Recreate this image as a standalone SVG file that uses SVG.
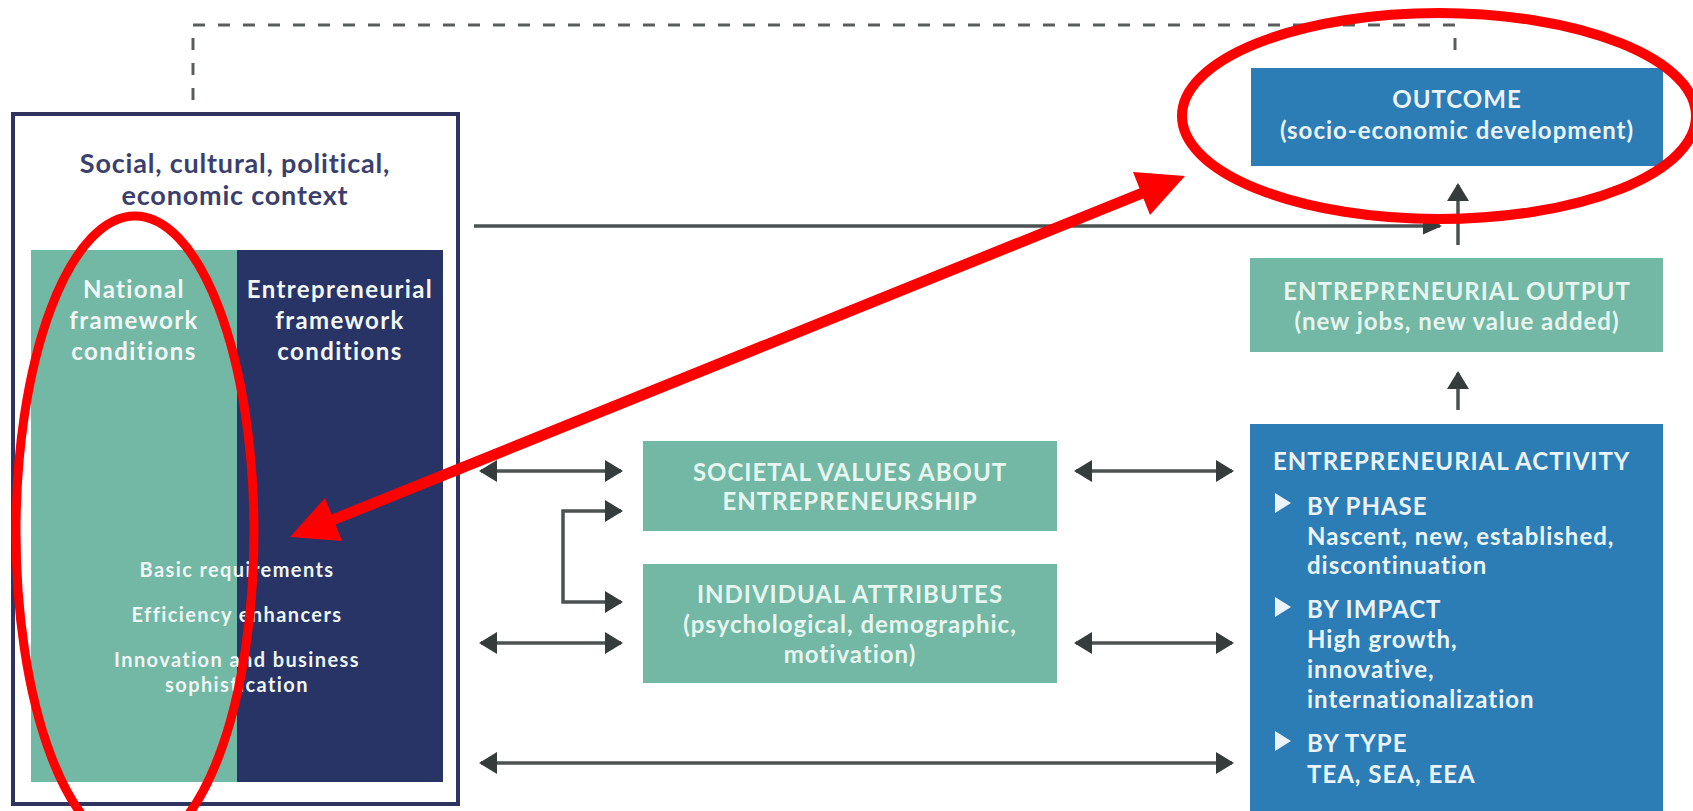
<svg xmlns="http://www.w3.org/2000/svg" width="1693" height="811" viewBox="0 0 1693 811">
<defs>
<style>
text{font-family:Lato,"Open Sans","Liberation Sans",sans-serif;font-weight:700}
.c{text-anchor:middle}
.title{font-size:27px;fill:#3b3f6e;letter-spacing:0.8px}
.col{font-size:24px;fill:#f2f7f6;letter-spacing:1.4px}
.sub{font-size:20px;fill:#eef5f3;letter-spacing:1.4px}
.tl{font-size:24px;fill:#e6f5ef;letter-spacing:1px}
.bl{font-size:24px;fill:#eaf3fa;letter-spacing:1px}
.ln{stroke:#4c5151;stroke-width:3.5;fill:none}
.dash{stroke:#5a5d5d;stroke-width:3;fill:none;stroke-dasharray:12 13}
.red{stroke:#ff0000;fill:none}
</style>
<marker id="ah" viewBox="0 0 18 22" refX="16" refY="11" markerWidth="18" markerHeight="22" markerUnits="userSpaceOnUse" orient="auto-start-reverse">
<path d="M0,0 L18,11 L0,22 Z" fill="#363b3b"/>
</marker>
<marker id="ahs" viewBox="0 0 19 17" refX="17" refY="8.5" markerWidth="19" markerHeight="17" markerUnits="userSpaceOnUse" orient="auto">
<path d="M0,0 L19,8.5 L0,17 Z" fill="#363b3b"/>
</marker>
</defs>
<rect width="1693" height="811" fill="#ffffff"/>

<g id="context">
<rect x="13" y="114" width="445" height="690" fill="#ffffff" stroke="#2e3360" stroke-width="4"/>
<text class="title c" x="235" y="173">Social, cultural, political,</text>
<text class="title c" x="235" y="205">economic context</text>
</g>

<g id="national">
<rect x="31" y="250" width="206" height="532" fill="#73b8a4"/>
<text class="col c" x="134" y="298">National</text>
<text class="col c" x="134" y="329">framework</text>
<text class="col c" x="134" y="360">conditions</text>
</g>

<g id="entrepreneurial-conditions">
<rect x="237" y="250" width="206" height="532" fill="#283466"/>
<text class="col c" x="340" y="298">Entrepreneurial</text>
<text class="col c" x="340" y="329">framework</text>
<text class="col c" x="340" y="360">conditions</text>
</g>

<g id="requirements">
<text class="sub c" x="237" y="577">Basic requirements</text>
<text class="sub c" x="237" y="622">Efficiency enhancers</text>
<text class="sub c" x="237" y="667">Innovation and business</text>
<text class="sub c" x="237" y="692">sophistication</text>
</g>

<g id="outcome">
<rect x="1251" y="68" width="412" height="98" fill="#2c7db6"/>
<text class="bl c" x="1457" y="108">OUTCOME</text>
<text class="bl c" x="1457" y="139">(socio-economic development)</text>
</g>

<g id="output">
<rect x="1250" y="258" width="413" height="94" fill="#73b8a4"/>
<text class="tl c" x="1457" y="300">ENTREPRENEURIAL OUTPUT</text>
<text class="tl c" x="1457" y="330">(new jobs, new value added)</text>
</g>

<g id="societal">
<rect x="643" y="441" width="414" height="90" fill="#73b8a4"/>
<text class="tl c" x="850" y="481">SOCIETAL VALUES ABOUT</text>
<text class="tl c" x="850" y="510">ENTREPRENEURSHIP</text>
</g>

<g id="individual">
<rect x="643" y="564" width="414" height="119" fill="#73b8a4"/>
<text class="tl c" x="850" y="603">INDIVIDUAL ATTRIBUTES</text>
<text class="tl c" x="850" y="633">(psychological, demographic,</text>
<text class="tl c" x="850" y="663">motivation)</text>
</g>

<g id="activity">
<rect x="1250" y="424" width="413" height="387" fill="#2c7db6"/>
<text class="bl" x="1273" y="470">ENTREPRENEURIAL ACTIVITY</text>
<path d="M1275,493 L1291,503 L1275,513 Z" fill="#eaf3fa"/>
<text class="bl" x="1307" y="515">BY PHASE</text>
<text class="bl" x="1307" y="545">Nascent, new, established,</text>
<text class="bl" x="1307" y="574">discontinuation</text>
<path d="M1275,597 L1291,607 L1275,617 Z" fill="#eaf3fa"/>
<text class="bl" x="1307" y="618">BY IMPACT</text>
<text class="bl" x="1307" y="648">High growth,</text>
<text class="bl" x="1307" y="678">innovative,</text>
<text class="bl" x="1307" y="708">internationalization</text>
<path d="M1275,731 L1291,741 L1275,751 Z" fill="#eaf3fa"/>
<text class="bl" x="1307" y="752">BY TYPE</text>
<text class="bl" x="1307" y="783">TEA, SEA, EEA</text>
</g>

<g id="connectors">
<path class="dash" d="M193,100 V25 H1455 V60"/>
<line class="ln" x1="474" y1="226" x2="1440" y2="226" marker-end="url(#ahs)"/>
<line class="ln" x1="1458" y1="245" x2="1458" y2="185" marker-end="url(#ah)"/>
<line class="ln" x1="1458" y1="410" x2="1458" y2="373" marker-end="url(#ah)"/>
<line class="ln" x1="481" y1="471" x2="621" y2="471" marker-start="url(#ah)" marker-end="url(#ah)"/>
<line class="ln" x1="481" y1="643" x2="621" y2="643" marker-start="url(#ah)" marker-end="url(#ah)"/>
<path class="ln" d="M621,511 H563 V602 H621" marker-start="url(#ah)" marker-end="url(#ah)"/>
<line class="ln" x1="1076" y1="471" x2="1232" y2="471" marker-start="url(#ah)" marker-end="url(#ah)"/>
<line class="ln" x1="1076" y1="643" x2="1232" y2="643" marker-start="url(#ah)" marker-end="url(#ah)"/>
<line class="ln" x1="481" y1="763" x2="1232" y2="763" marker-start="url(#ah)" marker-end="url(#ah)"/>
</g>

<g id="annotations">
<ellipse class="red" cx="1439" cy="116" rx="257" ry="103" stroke-width="10"/>
<ellipse class="red" cx="135" cy="532" rx="119" ry="316" stroke-width="9"/>
<line class="red" x1="330" y1="521" x2="1145" y2="192" stroke-width="11"/>
<path d="M290,537 L325,498 L342,541 Z" fill="#ff0000"/>
<path d="M1185,176 L1133,172 L1150,215 Z" fill="#ff0000"/>
</g>
</svg>
